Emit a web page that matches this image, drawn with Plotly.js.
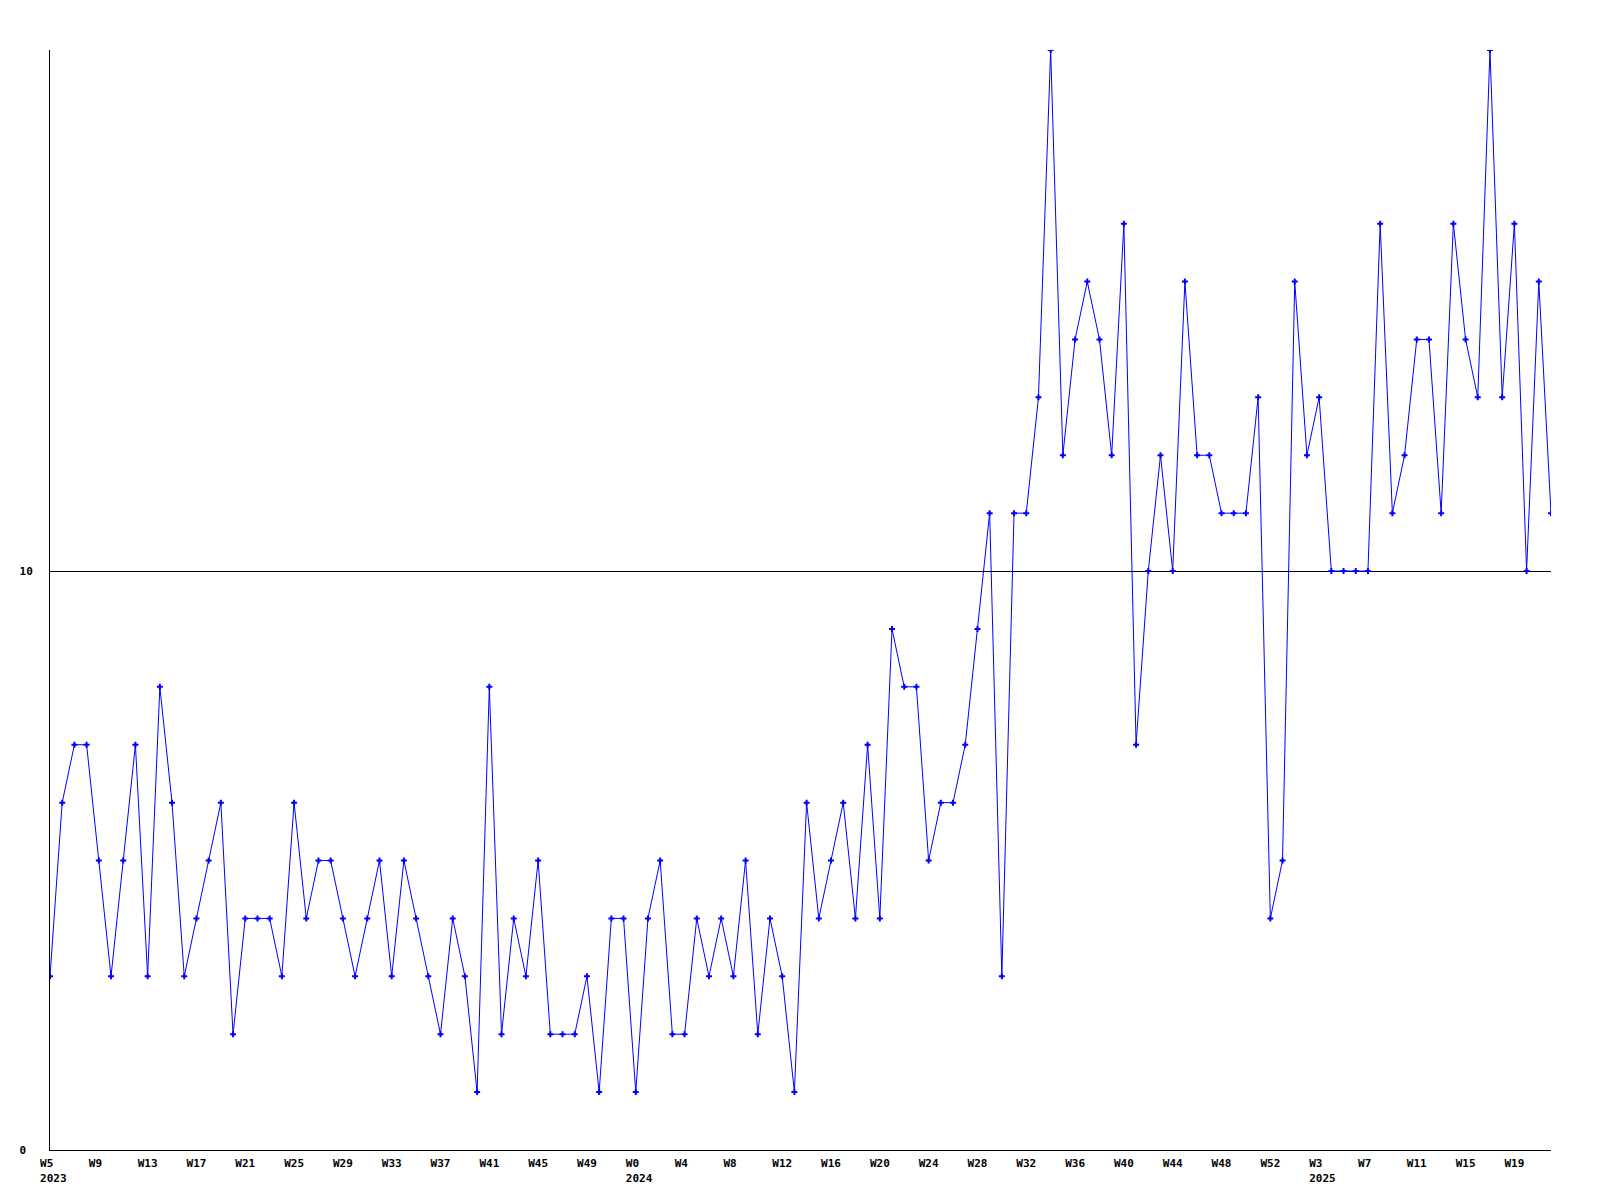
<!DOCTYPE html>
<html>
<head>
<meta charset="utf-8">
<script src="https://cdn.plot.ly/plotly-3.0.1.min.js"></script>
<style>
  html, body { margin: 0; padding: 0; background: #ffffff; }
  #chart { width: 1600px; height: 1200px; }
</style>
</head>
<body>
<div id="chart"></div>
<script>
// Week ranges covered by the series (year, first week, last week)
const weekRanges = [
  { year: 2023, from: 5, to: 52 },
  { year: 2024, from: 0, to: 52 },
  { year: 2025, from: 0, to: 22 }
];

// Weekly counts
const counts = [
  3, 6, 7, 7, 5, 3, 5, 7, 3, 8,
  6, 3, 4, 5, 6, 2, 4, 4, 4, 3,
  6, 4, 5, 5, 4, 3, 4, 5, 3, 5,
  4, 3, 2, 4, 3, 1, 8, 2, 4, 3,
  5, 2, 2, 2, 3, 1, 4, 4, 1, 4,
  5, 2, 2, 4, 3, 4, 3, 5, 2, 4,
  3, 1, 6, 4, 5, 6, 4, 7, 4, 9,
  8, 8, 5, 6, 6, 7, 9, 11, 3, 11,
  11, 13, 19, 12, 14, 15, 14, 12, 16, 7,
  10, 12, 10, 15, 12, 12, 11, 11, 11, 13,
  4, 5, 15, 12, 13, 10, 10, 10, 10, 16,
  11, 12, 14, 14, 11, 16, 14, 13, 19, 13,
  16, 10, 15, 11
];

// Category labels for each point (year + week)
const categories = [];
weekRanges.forEach(r => {
  for (let w = r.from; w <= r.to; w++) categories.push(r.year + "-W" + w);
});

// Tick positions (categories) and their labels
const tickCats = [
  "2023-W5", "2023-W9", "2023-W13", "2023-W17", "2023-W21", "2023-W25", "2023-W29",
  "2023-W33", "2023-W37", "2023-W41", "2023-W45", "2023-W49",
  "2024-W0", "2024-W4", "2024-W8", "2024-W12", "2024-W16", "2024-W20", "2024-W24",
  "2024-W28", "2024-W32", "2024-W36", "2024-W40", "2024-W44", "2024-W48", "2024-W52",
  "2025-W3", "2025-W7", "2025-W11", "2025-W15", "2025-W19"
];
const tickWeeks = [
  "W5", "W9", "W13", "W17", "W21", "W25", "W29", "W33", "W37", "W41", "W45", "W49",
  "W0", "W4", "W8", "W12", "W16", "W20", "W24", "W28", "W32", "W36", "W40", "W44", "W48", "W52",
  "W3", "W7", "W11", "W15", "W19"
];
const tickYears = {
  "2023-W5": "2023",
  "2024-W0": "2024",
  "2025-W3": "2025"
};

const yTickVals = [0, 10];
const yTickText = ["0", "10"];

const NB = "\u00a0";
function padRight(s, n) {
  // monospace: pad so labels appear left-aligned
  return s.length < n ? s + NB.repeat(n - s.length) : s;
}
const tickText = tickCats.map((c, i) => {
  const wk = padRight(tickWeeks[i], 3);
  return tickYears[c] ? wk + "<br>" + NB + tickYears[c] : wk;
});
const yTickTextPadded = yTickText.map(s => padRight(s, 2));

const monoFont = { family: "DejaVu Sans Mono, Liberation Mono, monospace", size: 11, color: "#000000", weight: "bold" };

const trace = {
  type: "scatter",
  mode: "lines+markers",
  x: categories,
  y: counts,
  line: { color: "#0000ff", width: 1 },
  marker: { color: "#0000ff", symbol: "cross", size: 5, line: { width: 0 } },
  hoverinfo: "x+y"
};

const layout = {
  width: 1600,
  height: 1200,
  margin: { l: 50, r: 49, t: 50, b: 50, pad: 0 },
  paper_bgcolor: "#ffffff",
  plot_bgcolor: "#ffffff",
  showlegend: false,
  font: monoFont,
  xaxis: {
    type: "category",
    categoryorder: "array",
    categoryarray: categories,
    range: [0, categories.length - 1],
    tickmode: "array",
    tickvals: tickCats,
    ticktext: tickText,
    tickangle: 0,
    ticks: "",
    showgrid: false,
    zeroline: false,
    showline: true,
    linecolor: "#000000",
    linewidth: 1,
    tickfont: monoFont,
    ticklabelstandoff: 3
  },
  yaxis: {
    range: [0, 19],
    tickmode: "array",
    tickvals: yTickVals,
    ticktext: yTickTextPadded,
    ticks: "",
    showgrid: true,
    gridcolor: "#000000",
    gridwidth: 1,
    zeroline: false,
    showline: true,
    linecolor: "#000000",
    linewidth: 1,
    tickfont: monoFont,
    ticklabelstandoff: 14
  }
};

Plotly.newPlot("chart", [trace], layout, { staticPlot: true, displayModeBar: false });
</script>
</body>
</html>
